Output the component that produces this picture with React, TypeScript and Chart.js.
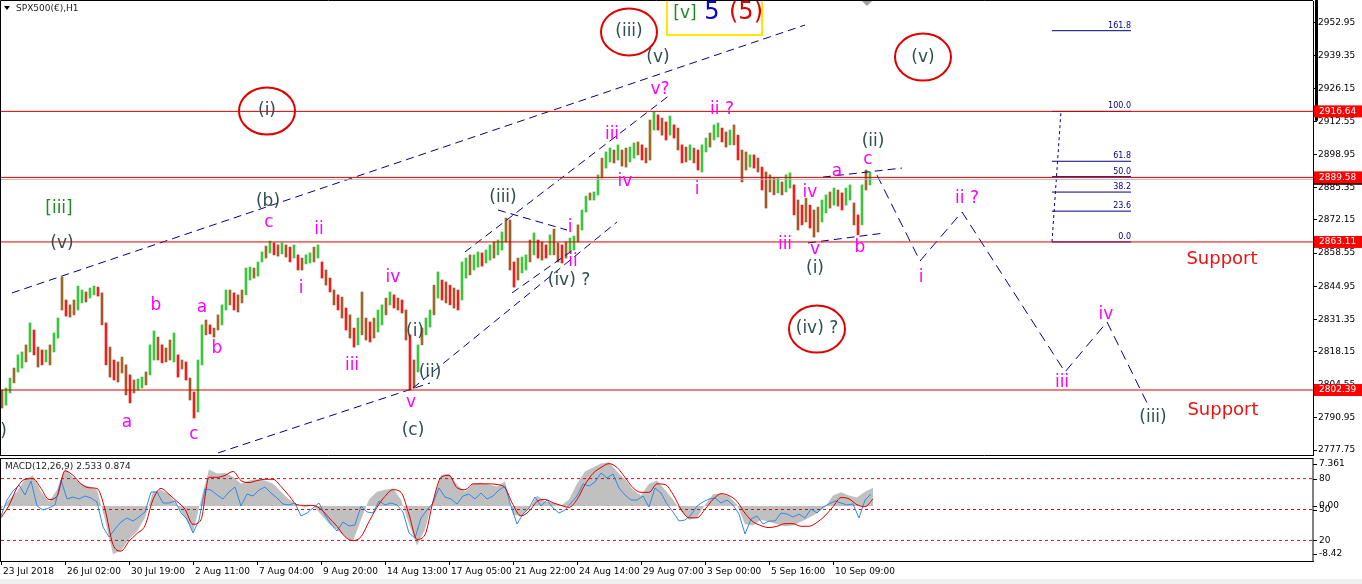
import React, { useEffect, useRef } from 'react';
import { Chart, registerables } from 'chart.js';

Chart.register(...registerables);

// ---------------- data ----------------
const timeLabels = [
  '23 Jul 2018', '26 Jul 02:00', '30 Jul 19:00', '2 Aug 11:00', '7 Aug 04:00', '9 Aug 20:00',
  '14 Aug 13:00', '17 Aug 05:00', '21 Aug 22:00', '24 Aug 14:00', '29 Aug 07:00', '3 Sep 00:00',
  '5 Sep 16:00', '10 Sep 09:00',
];
const barsPerTimeLabel = 64;
const totalBars = 1312;

const priceTicks = [2952.95, 2939.35, 2926.15, 2912.55, 2898.95, 2885.35, 2872.15, 2858.55, 2844.95, 2831.35, 2818.15, 2804.55, 2790.95, 2777.75];
const priceMin = 2775.75;
const priceMax = 2961.9;

// H1 price, grouped 4 bars per candle
const candleStep = 4;
const candleHigh = [
  2802.4, 2803.2, 2807.3, 2811.4, 2816.8, 2818.0, 2820.9, 2829.9, 2827.0, 2820.0,
  2818.8, 2818.8, 2820.9, 2825.8, 2831.9, 2848.7, 2839.3, 2837.3, 2839.3, 2845.0,
  2843.4, 2842.6, 2844.2, 2845.0, 2844.6, 2842.2, 2829.9, 2820.0, 2814.7, 2813.9,
  2815.9, 2812.7, 2808.6, 2806.5, 2806.9, 2807.7, 2809.8, 2820.9, 2826.6, 2824.1,
  2820.9, 2819.6, 2822.9, 2825.8, 2816.8, 2814.7, 2813.9, 2807.3, 2801.6, 2814.7,
  2829.1, 2831.1, 2829.1, 2827.8, 2833.2, 2837.3, 2843.4, 2843.4, 2842.2, 2841.4,
  2843.4, 2852.4, 2852.8, 2852.4, 2854.9, 2859.0, 2861.4, 2863.5, 2862.7, 2861.9,
  2862.7, 2861.9, 2861.0, 2861.9, 2857.8, 2856.5, 2857.8, 2858.6, 2861.0, 2861.9,
  2854.9, 2851.6, 2848.3, 2843.4, 2841.4, 2840.5, 2836.0, 2833.2, 2827.8, 2831.9,
  2842.6, 2831.9, 2830.3, 2831.9, 2835.2, 2837.3, 2840.1, 2842.6, 2841.4, 2840.1,
  2839.3, 2835.2, 2825.0, 2814.7, 2820.9, 2827.8, 2831.9, 2835.2, 2845.4, 2850.8,
  2847.5, 2846.7, 2845.4, 2844.2, 2843.4, 2854.9, 2856.5, 2857.8, 2857.8, 2859.0,
  2858.6, 2859.8, 2861.9, 2863.1, 2863.9, 2867.2, 2872.9, 2872.1, 2854.9, 2856.5,
  2856.9, 2857.8, 2863.9, 2866.8, 2863.9, 2863.1, 2861.9, 2866.0, 2868.4, 2862.7,
  2861.9, 2863.1, 2864.7, 2865.5, 2870.1, 2876.2, 2881.9, 2883.2, 2883.6, 2890.6,
  2897.5, 2900.0, 2901.6, 2900.8, 2902.9, 2900.8, 2901.6, 2902.0, 2903.7, 2904.1,
  2902.9, 2901.6, 2913.1, 2916.4, 2915.2, 2913.9, 2912.3, 2914.7, 2911.1, 2909.8,
  2902.9, 2902.0, 2902.9, 2901.6, 2900.8, 2902.9, 2905.7, 2907.8, 2911.1, 2911.9,
  2909.8, 2908.2, 2909.0, 2911.1, 2906.9, 2900.8, 2900.0, 2898.8, 2898.8, 2897.5,
  2893.8, 2891.8, 2890.6, 2889.3, 2889.3, 2887.7, 2890.6, 2891.4, 2886.5, 2880.3,
  2878.2, 2881.1, 2878.2, 2876.2, 2877.4, 2880.3, 2882.4, 2883.6, 2885.2, 2884.4,
  2883.2, 2885.2, 2886.5, 2879.1, 2874.2, 2886.5, 2892.6, 2891.8,
];
const candleLow = [
  2795.0, 2796.2, 2801.2, 2805.3, 2809.8, 2811.4, 2813.9, 2818.0, 2816.8, 2811.8,
  2812.7, 2813.9, 2812.7, 2818.0, 2823.7, 2835.2, 2832.7, 2832.3, 2833.2, 2835.2,
  2838.1, 2838.5, 2840.1, 2841.4, 2840.9, 2829.1, 2812.7, 2807.7, 2806.5, 2805.7,
  2809.4, 2800.4, 2797.1, 2801.2, 2802.4, 2803.2, 2804.5, 2808.6, 2814.7, 2814.7,
  2813.5, 2813.9, 2814.7, 2813.9, 2807.7, 2811.0, 2806.5, 2798.3, 2790.9, 2793.4,
  2812.7, 2825.0, 2825.4, 2824.1, 2827.0, 2829.1, 2835.2, 2837.3, 2835.2, 2834.4,
  2838.1, 2841.4, 2847.5, 2848.3, 2849.1, 2854.9, 2856.5, 2858.6, 2857.8, 2857.3,
  2858.2, 2856.9, 2854.9, 2856.5, 2851.6, 2851.6, 2854.1, 2854.5, 2854.9, 2856.5,
  2848.3, 2845.4, 2842.6, 2837.3, 2835.2, 2831.9, 2827.0, 2823.7, 2820.0, 2820.9,
  2825.0, 2822.9, 2822.1, 2823.7, 2826.2, 2829.1, 2833.2, 2837.3, 2836.0, 2835.2,
  2834.0, 2822.9, 2802.4, 2803.2, 2809.8, 2820.9, 2825.0, 2828.2, 2833.2, 2840.1,
  2839.3, 2838.1, 2837.3, 2836.0, 2835.2, 2839.3, 2848.3, 2849.6, 2851.6, 2852.8,
  2853.2, 2854.5, 2855.7, 2856.5, 2857.8, 2859.8, 2863.1, 2851.6, 2844.6, 2847.5,
  2850.4, 2851.6, 2854.9, 2857.8, 2856.5, 2855.7, 2856.5, 2857.8, 2857.8, 2854.9,
  2854.5, 2856.5, 2859.0, 2859.8, 2863.1, 2868.0, 2875.4, 2880.3, 2880.3, 2882.4,
  2889.3, 2893.4, 2895.9, 2895.5, 2896.7, 2894.2, 2893.8, 2895.9, 2897.5, 2898.8,
  2896.7, 2895.5, 2896.7, 2909.0, 2909.0, 2906.9, 2904.9, 2906.9, 2905.7, 2900.8,
  2895.5, 2895.9, 2896.7, 2895.5, 2892.6, 2891.8, 2900.0, 2902.0, 2904.9, 2906.1,
  2904.1, 2902.0, 2902.9, 2902.9, 2896.7, 2887.7, 2892.6, 2893.8, 2893.4, 2891.8,
  2884.4, 2877.0, 2883.6, 2882.4, 2883.2, 2882.4, 2883.6, 2885.2, 2874.2, 2868.0,
  2870.1, 2871.3, 2868.8, 2865.1, 2867.2, 2871.3, 2875.0, 2877.0, 2878.2, 2877.8,
  2876.2, 2878.2, 2880.3, 2870.1, 2866.0, 2870.1, 2884.4, 2886.5,
];

const levelPrices = [2916.64, 2889.58, 2863.11, 2802.39];
const bidPrice = 2888.8;
const fibLow = 2863.11;
const fibHigh = 2916.64;
const fibLevels = [0, 23.6, 38.2, 50.0, 61.8, 100.0, 161.8];
const fibStartBar = 1051;
const fibEndBar = 1130;
const fibAnchorBars = [1051, 1060];

// MACD pane
const macdMin = -8.42;
const macdMax = 7.361;
const macdTitle = 'MACD(12,26,9) 2.533 0.874';
const macdStep = 8;
const macdHist = [
  -0.5, 1.0, 2.2, 4.1, 4.7, 2.2, 0.7, 2.5, 5.7, 4.4,
  3.4, 3.0, 2.5, -2.1, -7.4, -6.8, -5.1, -3.9, -1.8, 2.2,
  2.5, 1.8, 0.2, -1.8, -4.1, 1.0, 5.6, 5.0, 5.1, 4.5,
  3.4, 3.9, 4.1, 3.9, 3.4, 2.2, 1.0, 0.2, -0.2, 0.1,
  -1.3, -2.7, -3.6, -4.7, -5.4, -2.1, 1.0, 2.2, 2.5, 2.7,
  1.0, -2.8, -6.1, -3.6, 1.0, 4.7, 5.0, 3.3, 2.2, 3.4,
  3.6, 3.3, 3.0, 3.8, -1.3, -1.6, -0.5, 1.6, 0.7, 0.5,
  0.1, 1.0, 3.4, 5.3, 5.9, 6.5, 6.7, 5.3, 4.1, 2.5,
  1.6, 3.4, 3.9, 2.5, 1.0, -0.8, -2.1, -1.8, 0.2, 1.8,
  1.9, 1.5, 0.2, -2.8, -3.0, -2.1, -2.4, -2.8, -3.1, -3.0,
  -2.4, -1.8, -1.1, -0.2, 1.6, 2.1, 1.6, 1.3, 2.2, 2.8,
];
const macdSignal = [
  -1.8, 0.1, 2.8, 4.1, 4.2, 2.7, 1.0, 1.5, 5.4, 4.7,
  3.4, 2.8, 2.7, -0.5, -5.9, -6.9, -5.4, -4.2, -3.0, 1.0,
  2.7, 1.8, 0.7, -0.5, -2.8, -2.1, 4.4, 4.4, 4.7, 5.3,
  3.9, 3.6, 3.9, 4.1, 4.1, 3.0, 1.6, 0.2, 0.1, 0.1,
  -0.5, -1.8, -3.1, -4.7, -5.3, -4.7, -2.4, -0.2, 1.5, 2.5,
  2.1, -1.3, -5.1, -4.4, 0.7, 4.4, 4.7, 2.8, 2.5, 3.4,
  3.4, 3.4, 3.3, 2.8, 0.2, -1.5, -0.8, 0.7, 1.0, 0.5,
  0.1, -0.2, 1.0, 3.3, 5.0, 5.9, 6.5, 5.9, 4.4, 2.8,
  2.1, 2.1, 3.4, 3.3, 1.8, -0.5, -1.8, -1.8, -0.5, 1.0,
  1.9, 1.6, 0.7, -1.1, -2.4, -3.0, -3.3, -3.1, -2.7, -2.7,
  -3.1, -3.1, -2.5, -1.5, -0.1, 1.3, 1.1, 0.2, -0.1, 1.1,
];
const oscStep = 6;
const oscLine = [
  43.7, 59.2, 68.0, 73.8, 64.1, 77.7, 53.4, 49.5, 51.5, 54.4,
  78.6, 60.2, 62.1, 60.2, 63.1, 61.2, 57.3, 33.0, 23.3, 31.1,
  37.9, 41.7, 38.8, 42.7, 47.6, 67.0, 67.0, 56.3, 56.3, 58.3,
  46.6, 40.8, 27.2, 39.8, 69.9, 68.9, 64.1, 60.2, 67.0, 71.8,
  53.4, 65.0, 63.1, 68.9, 71.8, 66.0, 61.2, 55.3, 54.4, 56.3,
  43.7, 46.6, 51.5, 56.3, 44.7, 35.9, 29.1, 37.9, 34.0, 35.0,
  53.4, 47.6, 46.6, 58.3, 54.4, 56.3, 54.4, 47.6, 27.2, 22.3,
  41.7, 49.5, 56.3, 70.9, 62.1, 60.2, 55.3, 63.1, 65.0, 60.2,
  66.0, 60.2, 63.1, 68.9, 72.8, 53.4, 35.9, 45.6, 51.5, 62.1,
  53.4, 59.2, 51.5, 46.6, 49.5, 56.3, 63.1, 74.8, 72.8, 76.7,
  85.4, 80.6, 84.5, 70.9, 64.1, 59.2, 59.2, 63.1, 52.4, 70.9,
  66.0, 55.3, 47.6, 38.8, 39.8, 44.7, 53.4, 57.3, 60.2, 61.2,
  56.3, 59.2, 54.4, 45.6, 26.2, 40.8, 43.7, 35.9, 38.8, 38.8,
  46.6, 45.6, 42.7, 45.6, 41.7, 50.5, 46.6, 52.4, 55.3, 58.3,
  56.3, 54.4, 55.3, 41.7, 59.2, 65.0,
];
const oscLevels = [80, 50, 20];

// ---------------- annotations (bar index, price) ----------------
const minorWaves: [string, number, number][] = [
  ['a', 126, 2788.9], ['c', 193, 2784.0], ['b', 155, 2837.2], ['a', 201, 2836.0], ['b', 216, 2819.2],
  ['c', 268, 2870.9], ['ii', 318, 2868.0], ['i', 300, 2843.8], ['iv', 392, 2848.7], ['iii', 351, 2812.6],
  ['v', 410, 2797.1], ['i', 569, 2869.2], ['ii', 572, 2854.9], ['iii', 611, 2907.0], ['iv', 624, 2887.7],
  ['v?', 659, 2925.4], ['ii ?', 721, 2917.2], ['i', 696, 2884.4], ['iii', 784, 2861.9], ['iv', 809, 2883.2],
  ['v', 814, 2859.8], ['a', 836, 2891.8], ['b', 859, 2860.6], ['c', 867, 2896.7], ['ii ?', 966, 2880.7],
  ['i', 920, 2848.3], ['iii', 1061, 2805.3], ['iv', 1105, 2833.2],
];
const interWaves: [string, number, number][] = [
  ['(v)', 61, 2862.3], ['(b)', 267, 2879.5], ['(c)', 412, 2785.6], ['(i)', 414, 2826.2], ['(ii)', 429, 2809.4],
  ['(iii)', 502, 2881.5], ['(iv) ?', 568, 2847.1], ['(v)', 657, 2938.9], ['(ii)', 872, 2904.1],
  ['(i)', 814, 2852.0], ['(iii)', 1152, 2790.9], ['(i)', -3, 2785.2],
];
const circledWaves: [string, number, number][] = [
  ['(i)', 266, 2916.8], ['(iii)', 628, 2949.2], ['(v)', 922, 2938.9], ['(iv) ?', 816, 2827.4],
];
const primaryWaves: [string, number, number][] = [['[iii]', 58, 2876.6]];
const degreeBox = { left: 666, right: 761, top: 2963.0, bottom: 2947.95 };
const degreeTexts: [string, number, number, string, number][] = [
  ['[v]', 684, 2956.6, '#1f8a1f', 17], ['5', 711, 2957.0, '#0000ee', 24], ['(5)', 745, 2957.0, '#e00000', 24],
];
const supportTexts: [string, number, number][] = [['Support', 1221, 2856.1], ['Support', 1222, 2794.2]];
const trendLines: [number, number, number, number][] = [
  [11, 2842.2, 804, 2952.05],
  [217, 2776.6, 429, 2805.3],
  [412, 2803.2, 616, 2871.3],
  [511, 2842.2, 572, 2859.8],
  [464, 2859.0, 669, 2923.4],
  [497, 2876.2, 566, 2868.0],
  [807, 2862.7, 884, 2866.8],
  [822, 2889.7, 901, 2893.4],
];
const projectionPath: [number, number][] = [
  [876, 2890.5], [919, 2855.3], [961, 2875.4], [1064, 2809.8], [1106, 2830.3], [1147, 2796.3],
];

// ---------------- styles ----------------
const SMALL_FONT = '9px "DejaVu Sans"';
const WAVE_FONT = '17px "DejaVu Sans"';
const NAVY = '#000080';

const fibPrice = (lvl: number) => fibLow + ((fibHigh - fibLow) * lvl) / 100;

function lineDs(points: { x: number; y: number }[], color: string, dash: number[] = [], width = 1, extra: any = {}) {
  return {
    type: 'line',
    data: points,
    borderColor: color,
    borderWidth: width,
    borderDash: dash,
    pointRadius: 0,
    fill: false,
    tension: 0,
    order: 1,
    ...extra,
  };
}

const mainDecor = {
  id: 'mainDecor',
  afterDatasetsDraw(chart: any) {
    const { ctx, chartArea: a } = chart;
    const X = (b: number) => chart.scales.x.getPixelForValue(b);
    const Y = (p: number) => chart.scales.y.getPixelForValue(p);
    ctx.save();
    ctx.beginPath();
    ctx.rect(a.left, a.top, a.right - a.left, a.bottom - a.top);
    ctx.clip();
    ctx.textAlign = 'center';
    ctx.textBaseline = 'middle';

    ctx.strokeStyle = '#e00000';
    ctx.lineWidth = 2;
    for (const [, b, p] of circledWaves) {
      ctx.beginPath();
      ctx.ellipse(X(b), Y(p), 28, 23.5, 0, 0, Math.PI * 2);
      ctx.stroke();
    }
    ctx.font = WAVE_FONT;
    ctx.fillStyle = '#2f4f4f';
    for (const [t, b, p] of circledWaves) ctx.fillText(t, X(b), Y(p));
    for (const [t, b, p] of interWaves) ctx.fillText(t, X(b), Y(p));
    ctx.fillStyle = '#ff00ff';
    for (const [t, b, p] of minorWaves) ctx.fillText(t, X(b), Y(p));
    ctx.fillStyle = '#1f8a1f';
    for (const [t, b, p] of primaryWaves) ctx.fillText(t, X(b), Y(p));

    ctx.font = '18px "DejaVu Sans"';
    ctx.fillStyle = '#ee1111';
    for (const [t, b, p] of supportTexts) ctx.fillText(t, X(b), Y(p));

    // degree box
    ctx.strokeStyle = '#ffe600';
    ctx.lineWidth = 2;
    const bx = X(degreeBox.left), by = Y(degreeBox.top);
    ctx.strokeRect(bx, by, X(degreeBox.right) - bx, Y(degreeBox.bottom) - by);
    for (const [t, b, p, c, s] of degreeTexts) {
      ctx.font = `${s}px "DejaVu Sans"`;
      ctx.fillStyle = c;
      ctx.fillText(t, X(b), Y(p));
    }

    // fib labels
    ctx.font = '8px "DejaVu Sans"';
    ctx.fillStyle = NAVY;
    ctx.textAlign = 'right';
    ctx.textBaseline = 'bottom';
    for (const l of fibLevels) ctx.fillText(l.toFixed(1), X(fibEndBar), Y(fibPrice(l)) - 1);

    // small marker at top
    ctx.fillStyle = '#a0a0a0';
    ctx.beginPath();
    ctx.moveTo(X(861), a.top);
    ctx.lineTo(X(871), a.top);
    ctx.lineTo(X(866), a.top + 5);
    ctx.closePath();
    ctx.fill();
    ctx.restore();
  },
  afterDraw(chart: any) {
    const { ctx, chartArea: a } = chart;
    const Y = (p: number) => chart.scales.y.getPixelForValue(p);
    ctx.save();
    ctx.strokeStyle = '#000';
    ctx.lineWidth = 1;
    ctx.beginPath();
    ctx.moveTo(0.5, a.bottom + 0.5);
    ctx.lineTo(0.5, 0.5);
    ctx.lineTo(a.right, 0.5);
    ctx.moveTo(0, a.bottom + 0.5);
    ctx.lineTo(a.right, a.bottom + 0.5);
    ctx.stroke();

    ctx.fillStyle = '#000';
    ctx.fillRect(a.right + 2, 0, 3, Y(2912.8));
    ctx.fillRect(a.right, Y(bidPrice) + 3, 49, 2.5);

    ctx.font = SMALL_FONT;
    ctx.textAlign = 'left';
    ctx.textBaseline = 'middle';
    for (const p of levelPrices) {
      const y = Y(p);
      ctx.fillStyle = '#ff0000';
      ctx.fillRect(a.right + 1, y - 6, 49, 12);
      ctx.fillStyle = '#ffffff';
      ctx.fillText(p.toFixed(2), a.right + 6, y);
    }

    // title
    ctx.fillStyle = '#000';
    ctx.beginPath();
    ctx.moveTo(4, 6);
    ctx.lineTo(10, 6);
    ctx.lineTo(7, 10);
    ctx.closePath();
    ctx.fill();
    ctx.fillStyle = '#222';
    ctx.fillText('SPX500(€),H1', 16, 8.5);
    ctx.restore();
  },
};

const macdDecor = {
  id: 'macdDecor',
  beforeDraw(chart: any) {
    const { ctx, width, height } = chart;
    ctx.save();
    ctx.fillStyle = '#efefef';
    ctx.fillRect(0, height - 5, width, 5);
    ctx.restore();
  },
  afterDraw(chart: any) {
    const { ctx, chartArea: a } = chart;
    const yM = chart.scales.yM, yS = chart.scales.yS;
    ctx.save();
    ctx.strokeStyle = '#000';
    ctx.lineWidth = 1;
    ctx.strokeRect(0.5, a.top + 0.5, a.right - 0.5, a.bottom - a.top);
    ctx.font = SMALL_FONT;
    ctx.fillStyle = '#000';
    ctx.textAlign = 'left';
    ctx.textBaseline = 'middle';
    const labels: [string, number][] = [
      [macdMax.toString(), a.top + 6],
      [oscLevels[0].toString(), yS.getPixelForValue(oscLevels[0])],
      ['0.00', yM.getPixelForValue(0)],
      [oscLevels[1].toString(), yS.getPixelForValue(oscLevels[1])],
      [oscLevels[2].toString(), yS.getPixelForValue(oscLevels[2])],
      [macdMin.toString(), a.bottom - 7],
    ];
    for (const [t, y] of labels) {
      ctx.beginPath();
      ctx.moveTo(a.right, Math.round(y) + 0.5);
      ctx.lineTo(a.right + 4, Math.round(y) + 0.5);
      ctx.stroke();
      ctx.fillText(t, a.right + 6, y);
    }
    ctx.fillStyle = '#222';
    ctx.fillText(macdTitle, a.left + 4, a.top + 9);
    ctx.restore();
  },
};

function buildMainConfig(): any {
  const candleColors = candleHigh.map((h, i) => {
    const mid = (h + candleLow[i]) / 2;
    const prev = i > 0 ? (candleHigh[i - 1] + candleLow[i - 1]) / 2 : mid;
    if (mid >= prev) return i % 3 === 0 ? '#9c6a2a' : '#3ec43e';
    return i % 2 === 0 ? '#ee1c1c' : '#a4572a';
  });
  const datasets: any[] = [
    {
      type: 'bar',
      data: candleHigh.map((h, i) => ({ x: i * candleStep + 1, y: [candleLow[i], h] })),
      backgroundColor: candleColors,
      barThickness: 2,
      order: 10,
    },
  ];
  for (const p of levelPrices) datasets.push(lineDs([{ x: 0, y: p }, { x: totalBars, y: p }], '#dd0000'));
  datasets.push(lineDs([{ x: 0, y: bidPrice }, { x: totalBars, y: bidPrice }], '#b4b4b4'));
  for (const [b1, p1, b2, p2] of trendLines) datasets.push(lineDs([{ x: b1, y: p1 }, { x: b2, y: p2 }], NAVY, [8, 5]));
  datasets.push(lineDs(projectionPath.map(([b, p]) => ({ x: b, y: p })), NAVY, [10, 6]));
  for (const l of fibLevels) datasets.push(lineDs([{ x: fibStartBar, y: fibPrice(l) }, { x: fibEndBar, y: fibPrice(l) }], NAVY));
  datasets.push(lineDs([{ x: fibAnchorBars[0], y: fibLow }, { x: fibAnchorBars[1], y: fibHigh }], NAVY, [3, 3]));

  return {
    type: 'bar',
    data: { datasets },
    options: {
      animation: false,
      responsive: false,
      devicePixelRatio: 1,
      events: [],
      layout: { padding: { left: 1, top: 1, right: 0, bottom: 3 } },
      plugins: { legend: { display: false }, tooltip: { enabled: false } },
      scales: {
        x: { type: 'linear', min: 0, max: totalBars, display: false, offset: false },
        y: {
          type: 'linear',
          position: 'right',
          min: priceMin,
          max: priceMax,
          afterBuildTicks: (s: any) => { s.ticks = priceTicks.map((v) => ({ value: v })); },
          afterFit: (s: any) => { s.width = 49; s.paddingTop = 0; s.paddingBottom = 0; },
          ticks: {
            autoSkip: false,
            padding: 1,
            color: '#000',
            font: { family: 'DejaVu Sans', size: 9 },
            callback: (v: any) => Number(v).toFixed(2),
          },
          grid: { display: true, drawOnChartArea: false, drawTicks: true, tickLength: 4, color: '#000' },
          border: { display: true, color: '#000', width: 1 },
        },
      },
    },
    plugins: [mainDecor],
  };
}

function buildMacdConfig(): any {
  const datasets: any[] = [
    {
      type: 'line',
      yAxisID: 'yM',
      data: macdHist.map((v, i) => ({ x: i * macdStep, y: v })),
      borderWidth: 0,
      pointRadius: 0,
      backgroundColor: '#c0c0c0',
      fill: 'origin',
      order: 10,
    },
  ];
  for (const l of oscLevels) {
    datasets.push(lineDs([{ x: 0, y: l }, { x: totalBars, y: l }], '#cc1111', [3, 3], 1, { yAxisID: 'yS', order: 5 }));
  }
  datasets.push(lineDs(oscLine.map((v, i) => ({ x: i * oscStep, y: v })), '#2e8ae6', [], 1, { yAxisID: 'yS', order: 2 }));
  datasets.push(lineDs(macdSignal.map((v, i) => ({ x: i * macdStep, y: v })), '#dd0000', [], 1, { yAxisID: 'yM', order: 1, cubicInterpolationMode: 'monotone' }));

  return {
    type: 'line',
    data: { datasets },
    options: {
      animation: false,
      responsive: false,
      devicePixelRatio: 1,
      events: [],
      layout: { padding: { left: 1, top: 2, right: 49, bottom: 0 } },
      plugins: { legend: { display: false }, tooltip: { enabled: false } },
      scales: {
        x: {
          type: 'linear',
          position: 'bottom',
          min: 0,
          max: totalBars,
          offset: false,
          afterBuildTicks: (s: any) => { s.ticks = timeLabels.map((_, i) => ({ value: i * barsPerTimeLabel })); },
          afterFit: (s: any) => { s.height = 23; s.paddingLeft = 0; s.paddingRight = 0; },
          ticks: {
            autoSkip: false,
            maxRotation: 0,
            minRotation: 0,
            align: 'start',
            labelOffset: 2,
            padding: 1,
            color: '#000',
            font: { family: 'DejaVu Sans', size: 9 },
            callback: (_v: any, i: number) => timeLabels[i],
          },
          grid: { display: true, drawOnChartArea: false, drawTicks: true, tickLength: 4, color: '#000' },
          border: { display: true, color: '#000' },
        },
        yM: { type: 'linear', display: false, min: macdMin, max: macdMax },
        yS: { type: 'linear', display: false, min: 0, max: 100 },
      },
    },
    plugins: [macdDecor],
  };
}

export default function App() {
  const mainRef = useRef<HTMLCanvasElement>(null);
  const macdRef = useRef<HTMLCanvasElement>(null);
  useEffect(() => {
    const c1 = new Chart(mainRef.current as HTMLCanvasElement, buildMainConfig());
    const c2 = new Chart(macdRef.current as HTMLCanvasElement, buildMacdConfig());
    return () => {
      c1.destroy();
      c2.destroy();
    };
  }, []);
  return (
    <div style={{ position: 'fixed', left: 0, top: 0, width: 1362, height: 584, background: '#ffffff', overflow: 'hidden' }}>
      <canvas ref={mainRef} width={1362} height={458} style={{ position: 'absolute', left: 0, top: 0, width: 1362, height: 458 }} />
      <canvas ref={macdRef} width={1362} height={128} style={{ position: 'absolute', left: 0, top: 456, width: 1362, height: 128 }} />
    </div>
  );
}
